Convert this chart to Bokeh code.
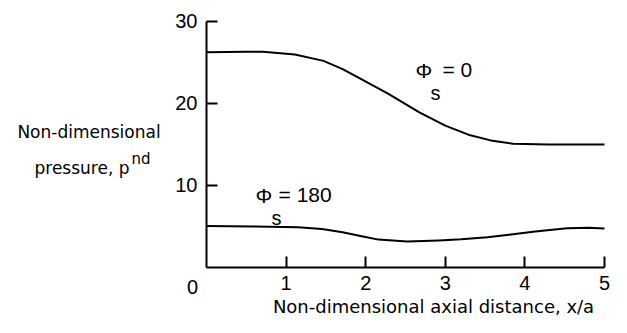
from bokeh.plotting import figure
from bokeh.models import Label, FixedTicker, Range1d
from bokeh.embed import file_html
from bokeh.resources import INLINE

# Curve for Phi_s = 0
x_phi0 = [0.0, 0.5, 0.71, 1.11, 1.47, 1.71, 1.88, 2.28, 2.68, 3.0, 3.29, 3.57, 3.85, 4.3, 5.0]
p_phi0 = [26.25, 26.3, 26.3, 25.98, 25.2, 24.2, 23.3, 21.2, 18.9, 17.3, 16.2, 15.5, 15.1, 15.0, 15.0]

# Curve for Phi_s = 180
x_phi180 = [0.0, 0.6, 1.15, 1.45, 1.71, 1.95, 2.16, 2.52, 2.92, 3.2, 3.53, 3.8, 4.13, 4.53, 4.8, 5.0]
p_phi180 = [5.05, 5.0, 4.9, 4.7, 4.3, 3.8, 3.4, 3.17, 3.3, 3.45, 3.7, 4.0, 4.4, 4.8, 4.85, 4.75]

x_ticks = [1, 2, 3, 4, 5]
y_ticks = [10, 20, 30]
x_bounds = (0, 5)
y_bounds = (0, 30)

NUM_FONT = "Liberation Sans"
TXT_FONT = "DejaVu Sans"

W, H = 611, 317
# frame covers the whole canvas; axes are pinned at the origin
p = figure(width=W, height=H, output_backend="svg", toolbar_location=None,
           x_range=Range1d(-2.588, 5.088), y_range=Range1d(-6.098, 32.561),
           min_border_left=0, min_border_right=0, min_border_top=0, min_border_bottom=0)
p.outline_line_color = None
p.grid.visible = False
p.background_fill_color = "white"
p.border_fill_color = "white"

xa, ya = p.xaxis[0], p.yaxis[0]
xa.fixed_location = 0
ya.fixed_location = 0
xa.bounds = x_bounds
ya.bounds = y_bounds
xa.ticker = FixedTicker(ticks=x_ticks)
ya.ticker = FixedTicker(ticks=y_ticks)

for ax in (xa, ya):
    ax.axis_line_width = 2
    ax.axis_line_color = "black"
    ax.major_tick_line_width = 2
    ax.major_tick_line_color = "black"
    ax.major_tick_in = 11
    ax.major_tick_out = 0
    ax.minor_tick_line_color = None
    ax.major_label_text_font = NUM_FONT
    ax.major_label_text_font_size = "20px"
    ax.major_label_text_color = "black"
    ax.major_label_standoff = 9

p.line(x_phi0, p_phi0, line_color="black", line_width=2, line_join="round")
p.line(x_phi180, p_phi180, line_color="black", line_width=2, line_join="round")

def lab(x, y, t, font=NUM_FONT, size="20px", align="left"):
    p.add_layout(Label(x=x, y=y, text=t, text_font=font, text_font_size=size,
                       text_color="black", text_align=align, text_baseline="middle"))

# corner zero
lab(-0.176, -2.32, "0", align="center")

# curve labels
lab(2.626, 24.02, "Φ", size="21px")
lab(2.814, 21.28, "s")
lab(2.965, 24.15, "=  0", size="21px")

lab(0.616, 8.78, "Φ", size="21px")
lab(0.817, 5.98, "s")
lab(0.905, 8.96, "= 180", size="21px")

# y-axis title
lab(-1.476, 16.51, "Non-dimensional", font=TXT_FONT, size="17px", align="center")
lab(-1.564, 12.12, "pressure, p", font=TXT_FONT, size="17px", align="center")
lab(-0.942, 13.27, "nd", font=TXT_FONT, size="15px")

# x-axis title
lab(2.852, -4.76, "Non-dimensional axial distance, x/a", font=TXT_FONT, size="18px", align="center")

open("out.html", "w").write(file_html(p, INLINE))
